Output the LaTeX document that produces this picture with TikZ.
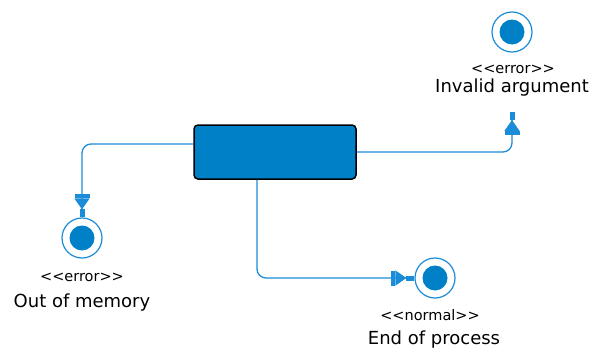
\documentclass[tikz,border=0pt]{standalone}
\usepackage{fontspec}
\setmainfont{DejaVu Sans}
\usetikzlibrary{arrows.meta,positioning}
\definecolor{pdblue}{HTML}{0080C6}
\definecolor{pdline}{HTML}{1A8CD8}
\newcommand{\stereotype}[1]{<\kern0pt<#1>\kern0pt>}

\begin{document}
\begin{tikzpicture}[x=1pt,y=-1pt,
  final/.style={circle,draw=pdline,line width=1.2pt,fill=white,minimum size=40pt,inner sep=0pt,
    path picture={\fill[pdblue] (path picture bounding box.center) circle(12.5pt);}},
  stereo/.style={font=\fontsize{14.5}{16}\selectfont,inner sep=1pt},
  caption/.style={font=\fontsize{18}{21}\selectfont,inner sep=1pt},
  flow/.style={draw=pdline,line width=1.3pt,rounded corners=9pt,
    -{Rectangle[width=15pt,length=4pt]Triangle[width=15pt,length=11pt]Rectangle[width=5pt,length=8pt]}}]
\useasboundingbox (0,0) rectangle (595,348);
% activity
\node[draw=black,line width=1.5pt,fill=pdblue,rounded corners=4pt,
  minimum width=162pt,minimum height=54pt] (task) at (275,152) {};
% final states
\node[final] (arg) at (512,32) {};
\node[stereo] (argS) at (513,69) {\stereotype{error}};
\node[caption] (argC) at (512,88) {Invalid argument};
\coordinate (argIn) at (512,112);
\node[final] (oom) at (82,238) {};
\node[stereo] (oomS) at (82,277) {\stereotype{error}};
\node[caption] (oomC) at (82,303) {Out of memory};
\node[final] (done) at (435,278) {};
\node[stereo] (doneS) at (430,315) {\stereotype{normal}};
\node[caption] (doneC) at (434,340) {End of process};
% transitions
\draw[flow] ([yshift=8pt]task.west) -| (oom);
\draw[flow] (task.east) -| (argIn);
\draw[flow] ([xshift=-18pt]task.south) |- (done);
\end{tikzpicture}
\end{document}
